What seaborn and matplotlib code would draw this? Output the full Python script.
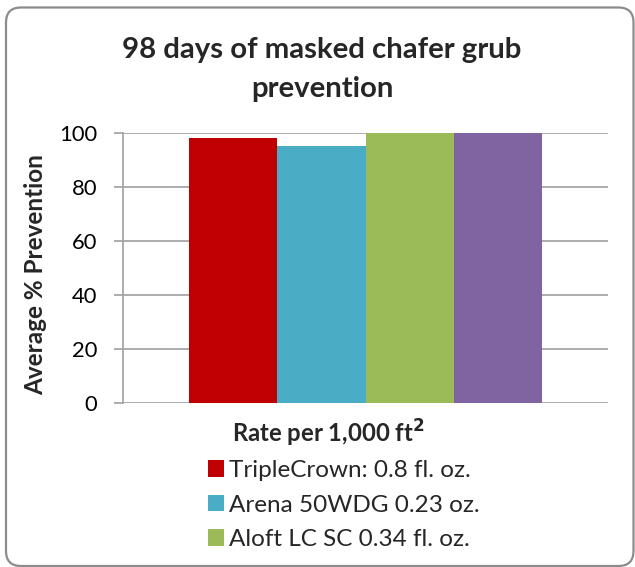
import matplotlib
matplotlib.use("Agg")
import matplotlib.pyplot as plt
from matplotlib.patches import FancyBboxPatch, Patch
import seaborn as sns
import pandas as pd

# --- data ---
products = ["TripleCrown: 0.8 fl. oz.", "Arena 50WDG 0.23 oz.",
            "Aloft LC SC 0.34 fl. oz.", "Product 4"]
prevention = [98, 95.2, 100, 100]
colors = ["#C00000", "#4BACC6", "#9BBB59", "#8064A2"]
yticks = [0, 20, 40, 60, 80, 100]

df = pd.DataFrame({"group": [""] * len(products), "product": products, "value": prevention})

sns.set_theme(style="white")
plt.rcParams["font.family"] = ["Lato", "DejaVu Sans"]

W, H = 635, 567
fig = plt.figure(figsize=(W / 100, H / 100), dpi=100)
# plot area in pixels: x 123..608, y 133..403
ax = fig.add_axes([123 / W, 1 - 403 / H, (608 - 123) / W, (403 - 133) / H])

sns.barplot(data=df, x="group", y="value", hue="product", palette=colors,
            width=0.727, saturation=1, ax=ax, legend=False, linewidth=0)

ax.set_ylim(0, 100)
ax.set_yticks(yticks)
ax.set_xticks([])
ax.yaxis.grid(True, color="#A6A6A6", linewidth=1.3)
ax.set_axisbelow(True)
for s in ["top", "right", "bottom"]:
    ax.spines[s].set_visible(False)
ax.spines["left"].set_color("#A6A6A6")
ax.spines["left"].set_linewidth(1.3)
ax.tick_params(axis="y", left=True, length=6.5, width=1.3, color="#A6A6A6",
               labelsize=15.8, pad=12, labelcolor="black")
ax.set_ylabel("")
ax.set_xlabel("")

fig.text(36 / W, 1 - 275 / H, "Average % Prevention", rotation=90,
         ha="center", va="center", fontsize=17.5, fontweight="bold")

# title, two lines placed by baseline
fig.text(322 / W, 1 - 58 / H, "98 days of masked chafer grub",
         ha="center", va="baseline", fontsize=21.2, fontweight="bold")
fig.text(322 / W, 1 - 97 / H, "prevention",
         ha="center", va="baseline", fontsize=21.2, fontweight="bold")

fig.text(328 / W, 1 - 443 / H, r"Rate per 1,000 ft$^\mathbf{2}$",
         ha="center", va="baseline", fontsize=17.2, fontweight="bold")

# legend, only three entries fit inside the frame
handles = [Patch(facecolor=c, edgecolor="none") for c in colors[:3]]
fig.legend(handles, products[:3], loc="upper left",
           bbox_to_anchor=(196 / W, 1 - 448 / H), frameon=False,
           fontsize=17.5, handlelength=0.66, handleheight=0.66,
           handletextpad=0.2, labelspacing=0.55, borderpad=0)

# rounded chart frame, in inches so corners stay round
frame = FancyBboxPatch((6 / 100, (H - 566) / 100), 627.5 / 100, 558.5 / 100,
                       boxstyle="round,pad=0,rounding_size=0.15",
                       transform=fig.dpi_scale_trans, facecolor="none",
                       edgecolor="#8C8C8C", linewidth=1.6, clip_on=False)
fig.patches.append(frame)

fig.savefig("out.png", dpi=100)
